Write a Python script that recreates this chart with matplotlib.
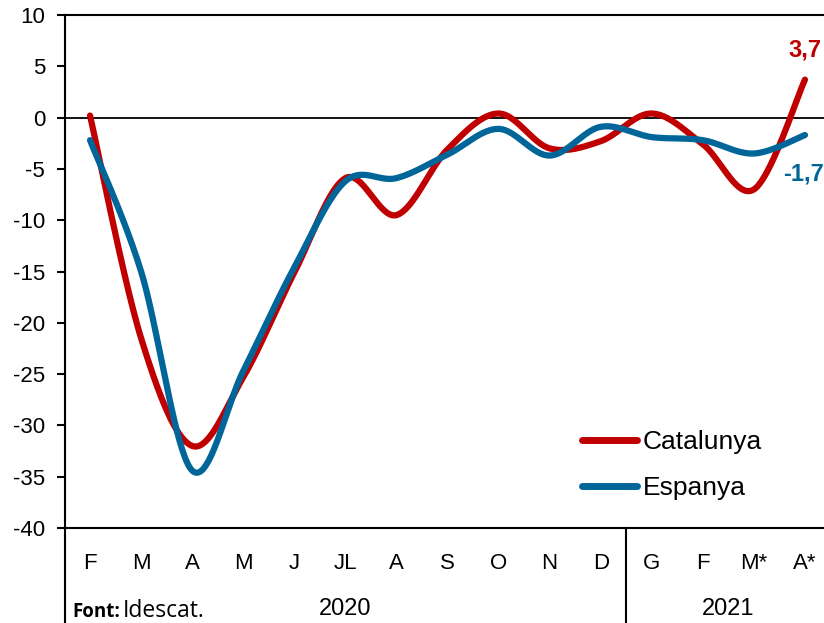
import numpy as np
import matplotlib
matplotlib.use('Agg')
import matplotlib.pyplot as plt
from matplotlib.lines import Line2D
from matplotlib.transforms import blended_transform_factory

plt.rcParams['font.family'] = ['Liberation Sans', 'DejaVu Sans']
plt.rcParams['axes.unicode_minus'] = False

months = ['F', 'M', 'A', 'M', 'J', 'JL', 'A', 'S', 'O', 'N', 'D', 'G', 'F', 'M*', 'A*']
catalunya = [0.2, -21.5, -32.0, -25.3, -15.1, -5.9, -9.5, -3.1, 0.4, -3.0, -2.3, 0.4, -2.6, -7.0, 3.7]
espanya = [-2.2, -15.0, -34.4, -24.7, -14.6, -6.2, -5.9, -3.6, -1.1, -3.7, -0.9, -1.9, -2.2, -3.5, -1.7]
years = ['2020', '2021']
year_centers = [5.0, 12.5]
year_split = 10.5
yticks = list(range(-40, 11, 5))
last_labels = ['3,7', '-1,7']

RED = '#C00000'
BLUE = '#00669A'


def smooth(y, n=40):
    """Excel-like smoothed line (Catmull-Rom via cubic Bezier)."""
    x = np.arange(len(y), dtype=float)
    P = np.column_stack([x, np.asarray(y, float)])
    P = np.vstack([P[0], P, P[-1]])
    t = np.linspace(0, 1, n, endpoint=False)
    out = []
    for i in range(1, len(P) - 2):
        p0, p1, p2, p3 = P[i - 1], P[i], P[i + 1], P[i + 2]
        c1 = p1 + (p2 - p0) / 6
        c2 = p2 - (p3 - p1) / 6
        seg = (((1 - t) ** 3)[:, None] * p1 + (3 * (1 - t) ** 2 * t)[:, None] * c1
               + (3 * (1 - t) * t ** 2)[:, None] * c2 + (t ** 3)[:, None] * p2)
        out.append(seg)
    out.append(P[-2][None, :])
    arr = np.vstack(out)
    return arr[:, 0], arr[:, 1]


W, H = 824, 623
fig = plt.figure(figsize=(W / 100, H / 100), dpi=100)
ax = fig.add_axes([64.5 / W, 1 - 528 / H, 766 / W, 513 / H])

ax.axhline(0, color='black', lw=1.3, zorder=1)

xc, yc = smooth(catalunya)
xe, ye = smooth(espanya)
ax.plot(xc, yc, color=RED, lw=4.5, solid_capstyle='round', label='Catalunya', zorder=3)
ax.plot(xe, ye, color=BLUE, lw=4.5, solid_capstyle='round', label='Espanya', zorder=4)

ax.set_xlim(-0.5, len(months) - 0.5)
ax.set_ylim(-40, 10)
ax.set_yticks(yticks)
ax.set_yticklabels([str(v) for v in yticks])
ax.set_xticks(range(len(months)))
ax.set_xticklabels(months)
ax.tick_params(axis='y', direction='out', length=6, width=1.5, labelsize=16, pad=8)
ax.tick_params(axis='x', length=0, labelsize=16, pad=18)

for s in ['top', 'left', 'bottom']:
    ax.spines[s].set_linewidth(1.5)
ax.spines['right'].set_visible(False)

# lines below the axis (left border and year separator)
drop = -(H - 528) / 513
ax.add_line(Line2D([0, 0], [0, drop], transform=ax.transAxes, color='black', lw=1.5, clip_on=False))
bt = blended_transform_factory(ax.transData, ax.transAxes)
ax.add_line(Line2D([year_split, year_split], [0, drop], transform=bt, color='black', lw=1.5, clip_on=False))

for yr, c in zip(years, year_centers):
    ax.text(c, (528 - 609) / 513, yr, transform=bt, ha='center', va='center', fontsize=17)

# end labels
ax.annotate(last_labels[0], (len(months) - 1, catalunya[-1]), xytext=(0, 21), textcoords='offset points',
            ha='center', va='center', color=RED, fontsize=17, fontweight='bold', annotation_clip=False)
ax.annotate(last_labels[1], (len(months) - 1, espanya[-1]), xytext=(-16, -28), textcoords='offset points',
            ha='left', va='center', color=BLUE, fontsize=17, fontweight='bold', annotation_clip=False)

leg = ax.legend(loc='center left', bbox_to_anchor=(582 / W, 1 - 465 / H), bbox_transform=fig.transFigure,
                frameon=False, fontsize=19, handlelength=2.1, handletextpad=0.2, labelspacing=0.85,
                borderpad=0, borderaxespad=0)
for h in leg.get_lines():
    h.set_linewidth(5)

fig.text(72 / W, 1 - 617 / H, 'Font:', fontsize=13.5, fontweight='bold', family=['Open Sans', 'DejaVu Sans'],
         ha='left', va='baseline')
fig.text(123 / W, 1 - 617 / H, 'Idescat.', fontsize=16.5, family=['Open Sans', 'DejaVu Sans'],
         ha='left', va='baseline')

fig.savefig('out.png', dpi=100)
